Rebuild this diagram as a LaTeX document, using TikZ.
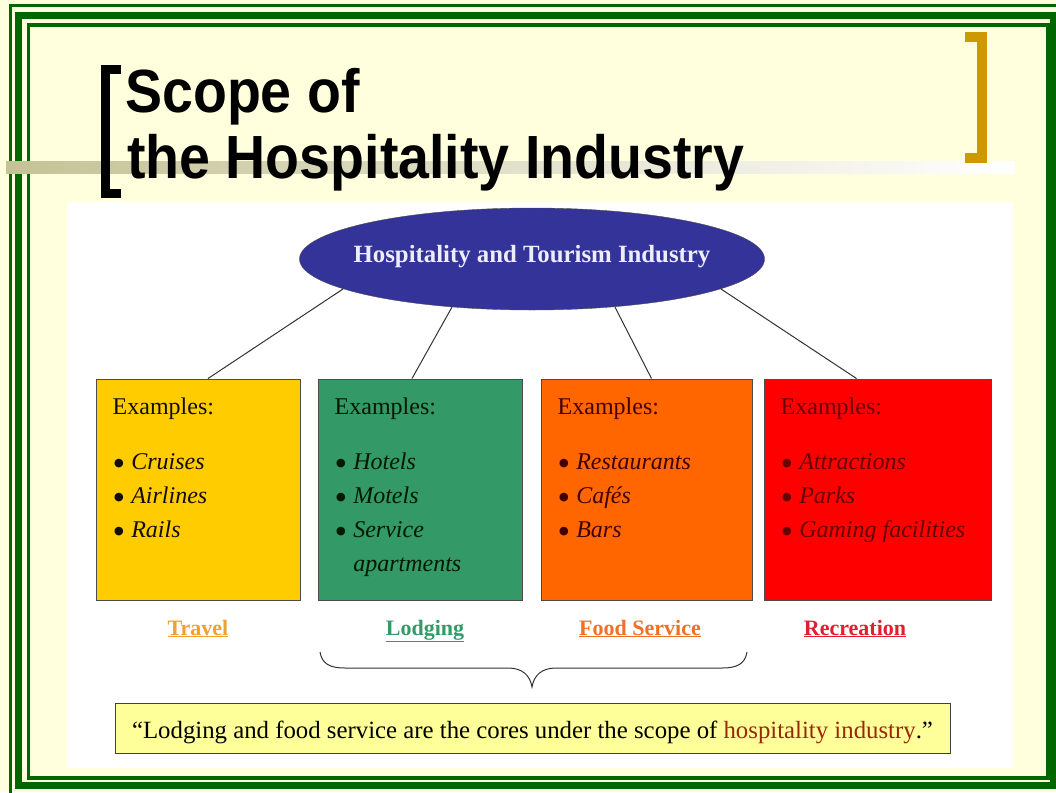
\documentclass[tikz,border=0pt]{standalone}
\usepackage{fontspec}
\setmainfont{Liberation Serif}
\newfontfamily\titlefont[FakeStretch=0.91]{Liberation Sans}
\usetikzlibrary{shapes.geometric,positioning}

\definecolor{framegreen}{RGB}{0,102,0}
\definecolor{slidebg}{RGB}{255,255,221}
\definecolor{stripecol}{RGB}{196,194,150}
\definecolor{bracketgold}{RGB}{204,153,0}
\definecolor{ovalblue}{RGB}{51,51,153}
\definecolor{travelcol}{RGB}{255,204,0}
\definecolor{lodgecol}{RGB}{51,153,102}
\definecolor{foodcol}{RGB}{255,102,0}
\definecolor{reccol}{RGB}{255,0,0}
\definecolor{travellbl}{RGB}{240,160,50}
\definecolor{foodlbl}{RGB}{240,112,40}
\definecolor{reclbl}{RGB}{224,32,48}
\definecolor{quotecol}{RGB}{255,255,153}
\definecolor{hospred}{RGB}{153,40,10}

\tikzset{
	sector/.style={rectangle, draw=black!70, line width=1pt, minimum height=221pt, inner sep=0pt},
	examples/.style={anchor=north west, align=left, inner sep=0pt, font=\fontsize{24}{34}\selectfont},
	tag/.style={anchor=base, inner sep=0pt, font=\bfseries\fontsize{22}{26}\selectfont},
	link/.style={draw=black!80, line width=1pt}
}

\newcommand{\dotmark}{\raisebox{-6pt}{\fontsize{36}{36}\selectfont\textbullet}}
\newcommand{\ex}[1]{\dotmark\hspace{6pt}\textit{#1}}

\begin{document}
\begin{tikzpicture}[x=1pt,y=-1pt,node distance=17pt]
	\useasboundingbox (0,0) rectangle (1056,792);
	\clip (0,0) rectangle (1056,792);
	\fill[slidebg] (0,0) rectangle (1056,792);

	% slide frame
	\draw[framegreen, line width=3pt] (10,6) rectangle (1062,796);
	\draw[framegreen, line width=7pt] (18.5,16) rectangle (1053.5,785.5);
	\draw[framegreen, line width=3.5pt] (28.7,25) rectangle (1048,778);

	% title
	\shade[left color=stripecol, right color=white] (6,161) rectangle (1015,173);
	\draw[line width=9pt] (121,69.5) -- (105.5,69.5) -- (105.5,193) -- (121,193);
	\draw[bracketgold, line width=10pt] (965,37) -- (982,37) -- (982,158) -- (965,158);
	\node[anchor=base west, inner sep=0pt, font=\titlefont\bfseries\fontsize{61}{66}\selectfont] (title_1) at (125,112) {Scope of};
	\node[anchor=base west, inner sep=0pt, font=\titlefont\bfseries\fontsize{61}{66}\selectfont] (title_2) at (127,178) {the Hospitality Industry};

	\fill[white] (67,202) rectangle (1013,768);

	\node[ellipse, fill=ovalblue, draw=black!70, minimum width=465pt, minimum height=102pt, inner sep=0pt,
		text=white!93!blue, text height=17pt, text depth=11pt, font=\bfseries\fontsize{24.8}{28}\selectfont] (hti) at (532,259) {\makebox[0pt]{Hospitality and Tourism Industry}};

	\node[sector, fill=travelcol, minimum width=204pt] (s_travel) at (198,489.5) {};
	\node[sector, fill=lodgecol, minimum width=204pt] (s_lodging) [right=of s_travel] {};
	\node[sector, fill=foodcol, minimum width=211pt] (s_food) [right=18pt of s_lodging] {};
	\node[sector, fill=reccol, minimum width=227pt] (s_rec) [right=11pt of s_food] {};

	\path[link]
		(hti.189) edge ([xshift=10pt]s_travel.north)
		(hti.211) edge ([xshift=-8pt]s_lodging.north)
		(hti.330) edge ([xshift=5pt]s_food.north)
		(hti.351) edge ([xshift=-21pt]s_rec.north);

	\node[examples, text=black!90!brown] (ex_travel) at ([shift={(17pt,-19pt)}]s_travel.north west)
		{Examples:\\[21pt] \ex{Cruises}\\ \ex{Airlines}\\ \ex{Rails}};
	\node[examples, text=black!90!green] (ex_lodging) at ([shift={(17pt,-19pt)}]s_lodging.north west)
		{Examples:\\[21pt] \ex{Hotels}\\ \ex{Motels}\\ \ex{Service}\\ \hphantom{\dotmark\hspace{6pt}}\textit{apartments}};
	\node[examples, text=black!75!red] (ex_food) at ([shift={(17pt,-19pt)}]s_food.north west)
		{Examples:\\[21pt] \ex{Restaurants}\\ \ex{Cafés}\\ \ex{Bars}};
	\node[examples, text=black!60!red] (ex_rec) at ([shift={(17pt,-19pt)}]s_rec.north west)
		{Examples:\\[21pt] \ex{Attractions}\\ \ex{Parks}\\ \ex{Gaming facilities}};

	\node[tag, text=travellbl] (t_travel) at (198,635) {\underline{Travel}};
	\node[tag, text=lodgecol] (t_lodging) at (425,635) {\underline{Lodging}};
	\node[tag, text=foodlbl] (t_food) at (640,635) {\underline{Food Service}};
	\node[tag, text=reclbl] (t_rec) at (855,635) {\underline{Recreation}};

	% brace under lodging and food service
	\draw[black!80, line width=1pt] (320,652) .. controls (322,664) and (330,668) .. (345,668) -- (508,668)
		.. controls (522,668) and (530,675) .. (532,687) .. controls (534,675) and (542,668) .. (556,668)
		-- (722,668) .. controls (737,668) and (745,664) .. (747,652);

	\node[draw=black!75, line width=1pt, fill=quotecol, minimum width=835pt, minimum height=50pt, inner sep=0pt,
		text height=22pt, text depth=2pt, font=\fontsize{24.8}{28}\selectfont] (quote) at (532.5,728)
		{``Lodging and food service are the cores under the scope of \textcolor{hospred}{hospitality industry}.''};
\end{tikzpicture}
\end{document}
